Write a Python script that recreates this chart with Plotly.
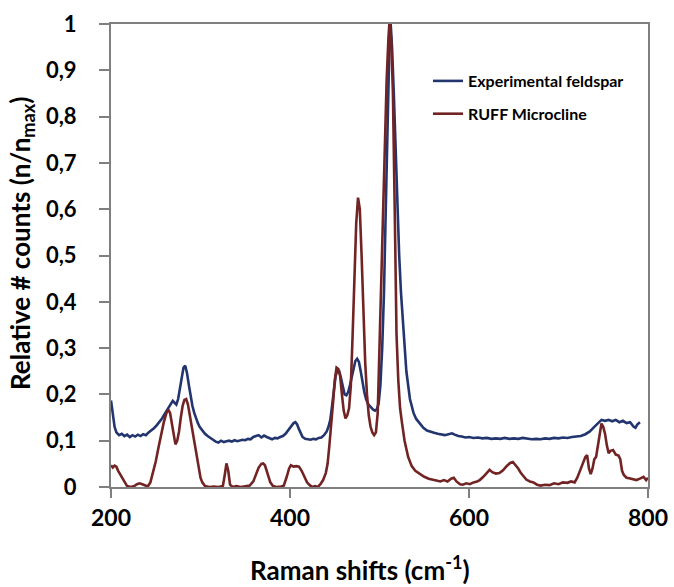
import plotly.graph_objects as go

# ---- data ----
exp_x = [200, 202, 204, 206, 209, 212, 215, 218, 221, 224, 227, 230, 233, 236, 239, 242, 245, 248, 251, 254,
         257, 260, 263, 266, 269, 271, 273, 275, 277, 279, 281, 283, 285, 287, 289, 291, 293, 295, 297, 299,
         302, 305, 308, 311, 314, 317, 320, 323, 326, 329, 332, 335, 338, 341, 344, 347, 350, 353, 356, 359,
         362, 365, 368, 371, 374, 377, 380, 383, 386, 389, 392, 395, 398, 401, 404, 406, 408, 410, 412, 414,
         417, 420, 423, 426, 429, 432, 435, 438, 441, 443, 445, 447, 449, 451, 453, 455, 457, 459, 461, 463,
         465, 467, 469, 471, 473, 475, 477, 479, 481, 483, 485, 487, 489, 491, 493, 495, 497, 499, 501, 503,
         505, 507, 509, 511, 512.5, 514, 516, 518, 520, 522, 524, 527, 530, 534, 538, 541, 545, 549, 553, 557,
         561, 565, 569, 573, 577, 581, 584, 588, 592, 596, 600, 605, 610, 615, 620, 625, 630, 635, 640, 645,
         650, 655, 660, 665, 670, 675, 680, 685, 690, 695, 700, 705, 710, 715, 720, 725, 730, 735, 740, 745,
         748, 752, 756, 760, 764, 768, 772, 776, 780, 784, 786, 788, 791]
exp_y = [0.187, 0.16, 0.13, 0.118, 0.112, 0.115, 0.11, 0.113, 0.108, 0.112, 0.109, 0.113, 0.11, 0.114, 0.112, 0.118, 0.122, 0.127, 0.133, 0.14,
         0.148, 0.158, 0.168, 0.178, 0.186, 0.182, 0.178, 0.19, 0.21, 0.235, 0.258, 0.262, 0.245, 0.22, 0.195, 0.175, 0.16, 0.148, 0.138, 0.13,
         0.122, 0.115, 0.11, 0.105, 0.102, 0.098, 0.096, 0.1, 0.097, 0.099, 0.1, 0.098, 0.101, 0.099, 0.1, 0.102, 0.101, 0.104, 0.103, 0.108,
         0.11, 0.112, 0.107, 0.111, 0.108, 0.105, 0.103, 0.106, 0.105, 0.108, 0.11, 0.115, 0.122, 0.13, 0.138, 0.14, 0.135, 0.125, 0.115, 0.108,
         0.104, 0.103, 0.102, 0.104, 0.103, 0.106, 0.107, 0.112, 0.12, 0.13, 0.145, 0.175, 0.21, 0.24, 0.252, 0.25, 0.235, 0.215, 0.2, 0.198,
         0.205, 0.22, 0.24, 0.26, 0.272, 0.277, 0.27, 0.25, 0.225, 0.205, 0.19, 0.18, 0.175, 0.17, 0.167, 0.165, 0.168, 0.18, 0.22, 0.3,
         0.42, 0.6, 0.8, 0.95, 1.0, 0.95, 0.85, 0.72, 0.6, 0.5, 0.42, 0.33, 0.25, 0.19, 0.16, 0.147, 0.137, 0.128, 0.122, 0.119,
         0.117, 0.115, 0.113, 0.112, 0.114, 0.116, 0.113, 0.11, 0.109, 0.107, 0.108, 0.106, 0.107, 0.105, 0.106, 0.104, 0.105, 0.104, 0.106, 0.104,
         0.105, 0.104, 0.106, 0.104, 0.103, 0.104, 0.103, 0.105, 0.104, 0.106, 0.105, 0.107, 0.106, 0.108, 0.109, 0.11, 0.114, 0.12, 0.13, 0.14,
         0.145, 0.143, 0.145, 0.142, 0.145, 0.14, 0.143, 0.138, 0.14, 0.13, 0.128, 0.135, 0.14]

ruff_x = [200, 202, 204, 206, 208, 210, 213, 215, 218, 222, 226, 229, 232, 235, 238, 241, 244, 247, 250, 253,
          256, 259, 262, 264, 266, 268, 270, 272, 274, 276, 278, 280, 282, 284, 286, 288, 290, 292, 294, 296,
          298, 300, 302, 305, 310, 315, 320, 325, 327, 329, 331, 333, 336, 340, 345, 350, 355, 359, 362, 365,
          368, 370, 372, 375, 378, 381, 385, 390, 393, 396, 399, 401, 404, 407, 410, 413, 416, 419, 422, 425,
          428, 431, 434, 437, 440, 442, 444, 446, 448, 450, 452, 454, 456, 458, 460, 462, 464, 466, 468, 470,
          472, 474, 476, 478, 480, 482, 484, 486, 488, 490, 492, 494, 496, 498, 500, 502, 504, 506, 508, 510,
          511, 513, 515, 517, 519, 521, 523, 525, 528, 532, 536, 540, 545, 550, 555, 560, 564, 568, 572, 576,
          580, 583, 586, 590, 593, 597, 601, 605, 609, 612, 616, 620, 623, 626, 630, 634, 638, 642, 646, 649,
          652, 655, 658, 661, 664, 668, 672, 676, 680, 685, 690, 695, 700, 705, 710, 714, 718, 721, 724, 727,
          730, 732, 734, 736, 738, 740, 742, 744, 746, 748, 750, 752, 754, 756, 758, 761, 764, 767, 769, 771,
          773, 776, 779, 783, 787, 791, 795, 798, 800]
ruff_y = [0.047, 0.042, 0.046, 0.044, 0.035, 0.028, 0.02, 0.01, 0.002, 0.0, 0.002, 0.006, 0.008, 0.006, 0.003, 0.001, 0.01, 0.03, 0.055, 0.085,
          0.115, 0.14, 0.16, 0.167, 0.16, 0.135, 0.11, 0.092, 0.1, 0.12, 0.15, 0.175, 0.188, 0.19, 0.178, 0.155, 0.13, 0.11, 0.085, 0.06,
          0.04, 0.02, 0.01, 0.002, 0.0, 0.001, 0.0, 0.002, 0.025, 0.051, 0.035, 0.005, 0.0, 0.002, 0.0, 0.001, 0.003, 0.012, 0.028, 0.042,
          0.05, 0.051, 0.047, 0.03, 0.01, 0.002, 0.0, 0.001, 0.003, 0.02, 0.04, 0.047, 0.044, 0.045, 0.044, 0.035, 0.022, 0.01, 0.004, 0.0,
          0.002, 0.0, 0.006, 0.015, 0.03, 0.05, 0.09, 0.13, 0.18, 0.23, 0.258, 0.255, 0.24, 0.2, 0.165, 0.148, 0.155, 0.17, 0.22, 0.33,
          0.45, 0.57, 0.625, 0.6, 0.5, 0.38, 0.27, 0.2, 0.155, 0.13, 0.118, 0.112, 0.118, 0.16, 0.3, 0.45, 0.6, 0.75, 0.88, 0.97,
          1.0, 0.97, 0.85, 0.6, 0.33, 0.23, 0.17, 0.14, 0.1, 0.065, 0.045, 0.035, 0.029, 0.022, 0.018, 0.016, 0.015, 0.012, 0.015, 0.012,
          0.018, 0.02, 0.012, 0.006, 0.005, 0.008, 0.006, 0.01, 0.012, 0.015, 0.022, 0.03, 0.037, 0.032, 0.029, 0.03, 0.036, 0.045, 0.052, 0.054,
          0.048, 0.04, 0.03, 0.022, 0.016, 0.012, 0.01, 0.005, 0.003, 0.005, 0.004, 0.008, 0.006, 0.01, 0.009, 0.012, 0.01, 0.02, 0.037, 0.05,
          0.065, 0.069, 0.04, 0.028, 0.04, 0.06, 0.065, 0.09, 0.12, 0.137, 0.13, 0.115, 0.09, 0.073, 0.078, 0.08, 0.07, 0.068, 0.06, 0.035,
          0.026, 0.02, 0.019, 0.017, 0.015, 0.018, 0.022, 0.015, 0.02]

x_ticks = [200, 400, 600, 800]
x_ticktext = ["200", "400", "600", "800"]
y_ticks = [0, 0.1, 0.2, 0.3, 0.4, 0.5, 0.6, 0.7, 0.8, 0.9, 1]
y_ticktext = ["0", "0,1", "0,2", "0,3", "0,4", "0,5", "0,6", "0,7", "0,8", "0,9", "1"]

series_names = ["Experimental feldspar", "RUFF Microcline"]
series_colors = ["#22356f", "#722424"]

FONT = "Lato"

fig = go.Figure()
fig.add_trace(go.Scatter(x=exp_x, y=exp_y, mode="lines", name=series_names[0],
                         legendgroup="a", line=dict(color=series_colors[0], width=2.6)))
fig.add_trace(go.Scatter(x=ruff_x, y=ruff_y, mode="lines", name=series_names[1],
                         legendgroup="b", line=dict(color=series_colors[1], width=2.6)))

axis_col = "#7f7f7f"
L, R, T, B = 111, 26, 24, 100
PW, PH = 674 - L - R, 587 - T - B

fig.update_layout(
    width=674, height=587,
    margin=dict(l=L, r=R, t=T, b=B, autoexpand=False),
    paper_bgcolor="white", plot_bgcolor="white",
    font=dict(family=FONT, color="black"),
    showlegend=True,
    legend=dict(x=(428 - L) / PW, y=(487 - 64) / PH, xanchor="left", yanchor="top",
                bgcolor="rgba(0,0,0,0)", tracegroupgap=9,
                font=dict(family=FONT, size=16, weight="bold", color="black")),
    xaxis=dict(range=[200, 800], tickvals=x_ticks, ticktext=x_ticktext, automargin=False,
               showgrid=False, zeroline=False, showline=True, linecolor=axis_col, linewidth=2,
               mirror=True, ticks="outside", ticklen=9, tickwidth=2, tickcolor=axis_col,
               tickfont=dict(family=FONT, size=23, weight="bold", color="black")),
    yaxis=dict(range=[0, 1], tickvals=y_ticks, ticktext=y_ticktext, automargin=False,
               showgrid=False, zeroline=False, showline=True, linecolor=axis_col, linewidth=2,
               mirror=True, ticks="outside", ticklen=10, tickwidth=2, tickcolor=axis_col,
               ticklabelstandoff=18,
               tickfont=dict(family=FONT, size=22, weight="bold", color="black")),
)

fig.add_annotation(text="Raman shifts (cm<sup>-1</sup>)", xref="paper", yref="paper",
                   x=(360 - L) / PW, y=-(568 - 487) / PH, xanchor="center", yanchor="middle",
                   showarrow=False, font=dict(family=FONT, size=26, weight="bold", color="black"))
fig.add_annotation(text="Relative # counts (n/n<sub>max</sub>)", xref="paper", yref="paper",
                   x=-(L - 21) / PW, y=(487 - 244) / PH, xanchor="center", yanchor="middle",
                   textangle=-90, showarrow=False,
                   font=dict(family=FONT, size=26, weight="bold", color="black"))

fig.write_html("out.html", post_script="document.body.style.margin='0px';",
               config={"displayModeBar": False})
